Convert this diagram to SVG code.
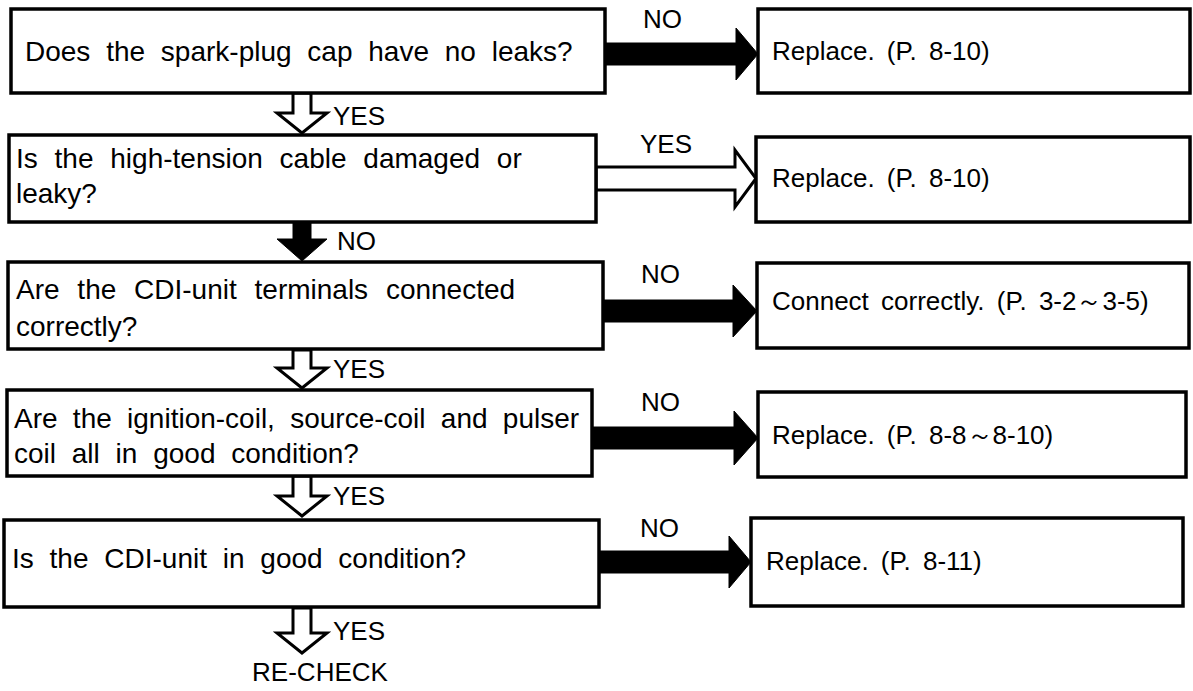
<svg xmlns="http://www.w3.org/2000/svg" width="1193" height="691" viewBox="0 0 1193 691">
<style>
.box{fill:#fff;stroke:#000;stroke-width:3.5}
.t{font-family:"Liberation Sans",Arial,sans-serif;font-size:28px;fill:#000;word-spacing:8px}
.r{font-family:"Liberation Sans",Arial,sans-serif;font-size:26px;fill:#000;word-spacing:5px}
.l{font-family:"Liberation Sans",Arial,sans-serif;font-size:26px;fill:#000}
.blk{fill:#000;stroke:#000;stroke-width:1}
.wht{fill:#fff;stroke:#000;stroke-width:3;stroke-linejoin:miter}
</style>
<rect width="1193" height="691" fill="#fff"/>
<g id="connectors">
<polygon class="blk" points="605,43 736,43 736,28 758,54 736,80 736,65 605,65"/>
<text class="l" x="643" y="28">NO</text>
<polygon class="wht" points="293,93 293,113 277,113 302,133 327,113 311,113 311,93"/>
<text class="l" x="333" y="125">YES</text>
<polygon class="wht" points="596,167 735,167 735,150 756,178.5 735,207 735,190 596,190"/>
<text class="l" x="640" y="153">YES</text>
<polygon class="blk" points="293,222 293,239 277,239 302,261 327,239 311,239 311,222"/>
<text class="l" x="337" y="250">NO</text>
<polygon class="blk" points="603,300 733,300 733,285 757,311 733,337 733,322 603,322"/>
<text class="l" x="641" y="283">NO</text>
<polygon class="wht" points="293,350 293,368 277,368 302,388 327,368 311,368 311,350"/>
<text class="l" x="333" y="378">YES</text>
<polygon class="blk" points="592,427 734,427 734,411 758,438 734,465 734,449 592,449"/>
<text class="l" x="641" y="411">NO</text>
<polygon class="wht" points="293,476 293,496 277,496 302,516 327,496 311,496 311,476"/>
<text class="l" x="333" y="505">YES</text>
<polygon class="blk" points="599,551 729,551 729,536 751,562 729,588 729,573 599,573"/>
<text class="l" x="640" y="537">NO</text>
<polygon class="wht" points="293,608 293,633 277,633 302,653 327,633 311,633 311,608"/>
<text class="l" x="333" y="640">YES</text>
</g>
<g id="q1"><rect class="box" x="11" y="9" width="594" height="84"/><text class="t" x="25" y="61">Does the spark-plug cap have no leaks?</text></g>
<g id="r1"><rect class="box" x="758" y="9" width="432" height="84"/><text class="r" x="772" y="60">Replace. (P. 8-10)</text></g>
<g id="q2"><rect class="box" x="9" y="135" width="587" height="87"/><text class="t" x="16" y="168" style="word-spacing:9px">Is the high-tension cable damaged or</text><text class="t" x="16" y="203">leaky?</text></g>
<g id="r2"><rect class="box" x="756" y="137" width="434" height="85"/><text class="r" x="772" y="187">Replace. (P. 8-10)</text></g>
<g id="q3"><rect class="box" x="8" y="262" width="595" height="87"/><text class="t" x="16" y="299" style="word-spacing:10px">Are the CDI-unit terminals connected</text><text class="t" x="16" y="336">correctly?</text></g>
<g id="r3"><rect class="box" x="757" y="263" width="432" height="85"/><text class="r" x="772" y="310">Connect correctly. (P. 3-2～3-5)</text></g>
<g id="q4"><rect class="box" x="7" y="390" width="585" height="86"/><text class="t" x="14" y="428" style="word-spacing:7.5px">Are the ignition-coil, source-coil and pulser</text><text class="t" x="14" y="463">coil all in good condition?</text></g>
<g id="r4"><rect class="box" x="758" y="392" width="428" height="85"/><text class="r" x="772" y="444">Replace. (P. 8-8～8-10)</text></g>
<g id="q5"><rect class="box" x="4" y="520" width="595" height="87"/><text class="t" x="12" y="568">Is the CDI-unit in good condition?</text></g>
<g id="r5"><rect class="box" x="751" y="518" width="432" height="88"/><text class="r" x="766" y="570">Replace. (P. 8-11)</text></g>
<g id="end"><text class="l" x="320" y="681" text-anchor="middle">RE-CHECK</text></g>
</svg>
